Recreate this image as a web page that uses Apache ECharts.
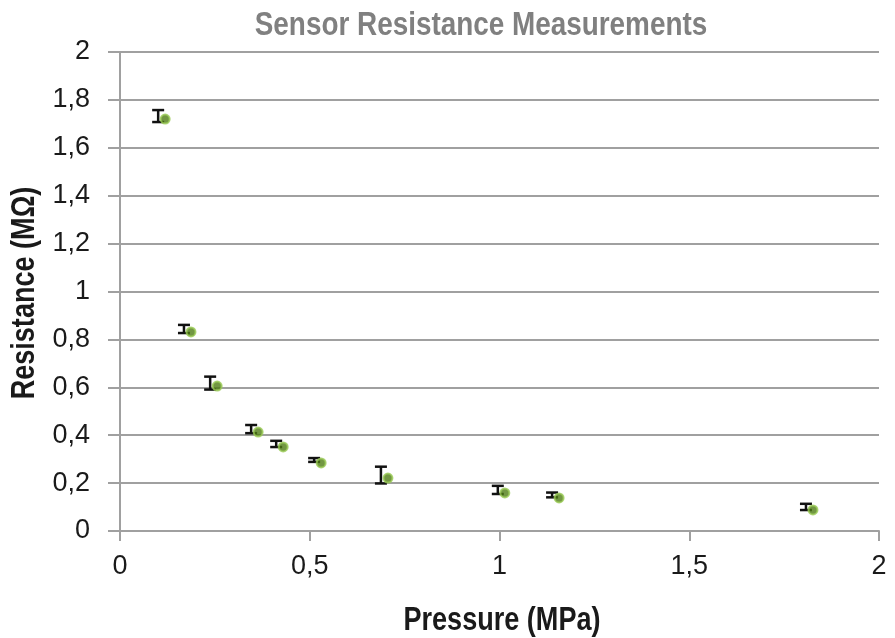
<!DOCTYPE html>
<html><head><meta charset="utf-8">
<script src="https://cdn.jsdelivr.net/npm/echarts@6/dist/echarts.min.js"></script>
<style>html,body{margin:0;padding:0;background:#fff}#c{width:895px;height:638px}</style>
</head><body><div id="c"></div>
<script>
var titleText = 'Sensor Resistance Measurements';
var xName = 'Pressure (MPa)';
var yName = 'Resistance (MΩ)';
var pressure = [0.119, 0.187, 0.256, 0.364, 0.430, 0.530, 0.706, 1.014, 1.157, 1.826];
var resistance = [1.720, 0.831, 0.605, 0.413, 0.351, 0.284, 0.221, 0.159, 0.138, 0.088];
var errHalf = [0.025, 0.017, 0.027, 0.017, 0.013, 0.008, 0.035, 0.017, 0.010, 0.013];

var pts = pressure.map(function (p, i) { return [p, resistance[i]]; });
var errData = pressure.map(function (p, i) { return [p, resistance[i], errHalf[i]]; });

var fmt = function (v) { return String(Math.round(v * 10) / 10).replace('.', ','); };
var narrowBold = function (size) { return 'bold ' + size + 'px "Liberation Sans", Arial, sans-serif'; };
var chart = echarts.init(document.getElementById('c'));
chart.setOption({
  animation: false,
  graphic: [
    { type: 'text', x: 481, y: 26, scaleX: 0.82, silent: true,
      style: { text: titleText, font: narrowBold(34), fill: '#808080', align: 'center', verticalAlign: 'middle' } },
    { type: 'text', x: 502, y: 621, scaleX: 0.82, silent: true,
      style: { text: xName, font: narrowBold(33), fill: '#1a1a1a', align: 'center', verticalAlign: 'middle' } },
    { type: 'text', x: 25, y: 293, scaleX: 0.82, rotation: Math.PI / 2, silent: true,
      style: { text: yName, font: narrowBold(33), fill: '#1a1a1a', align: 'center', verticalAlign: 'middle' } }
  ],
  grid: { left: 120, right: 16, top: 52, bottom: 107 },
  xAxis: { type: 'value', min: 0, max: 2, interval: 0.5,
    axisLine: { lineStyle: { color: '#a0a0a0', width: 2 } },
    axisTick: { show: true, length: 10, lineStyle: { color: '#a0a0a0', width: 2 } },
    splitLine: { show: false },
    axisLabel: { color: '#1a1a1a', fontSize: 27, margin: 22, fontFamily: 'Liberation Sans, Arial, sans-serif', formatter: function (v) { return fmt(v); } } },
  yAxis: { type: 'value', min: 0, max: 2, interval: 0.2,
    axisLine: { show: true, lineStyle: { color: '#a0a0a0', width: 2 } },
    axisTick: { show: true, length: 12, lineStyle: { color: '#a0a0a0', width: 2 } },
    splitLine: { show: true, lineStyle: { color: '#a0a0a0', width: 2 } },
    axisLabel: { color: '#1a1a1a', fontSize: 27, margin: 30, fontFamily: 'Liberation Sans, Arial, sans-serif', formatter: function (v) { return fmt(v); } } },
  series: [
    { type: 'custom', data: errData, z: 3,
      renderItem: function (params, api) {
        var x = api.value(0), y = api.value(1), e = api.value(2);
        var top = api.coord([x, y + e]);
        var bot = api.coord([x, y - e]);
        var dx = -7, dy = -3, w = 6;
        var cx = top[0] + dx;
        var st = { stroke: '#111', lineWidth: 2.5 };
        return { type: 'group', children: [
          { type: 'line', shape: { x1: cx, y1: top[1] + dy, x2: cx, y2: bot[1] + dy }, style: st },
          { type: 'line', shape: { x1: cx - w, y1: top[1] + dy, x2: cx + w, y2: top[1] + dy }, style: st },
          { type: 'line', shape: { x1: cx - w, y1: bot[1] + dy, x2: cx + w, y2: bot[1] + dy }, style: st }
        ] };
      } },
    { type: 'scatter', data: pts, symbol: 'circle', symbolSize: 9, z: 4,
      itemStyle: { color: '#4f7d14', borderColor: '#9acb55', borderWidth: 2 } }
  ]
});
</script></body></html>
